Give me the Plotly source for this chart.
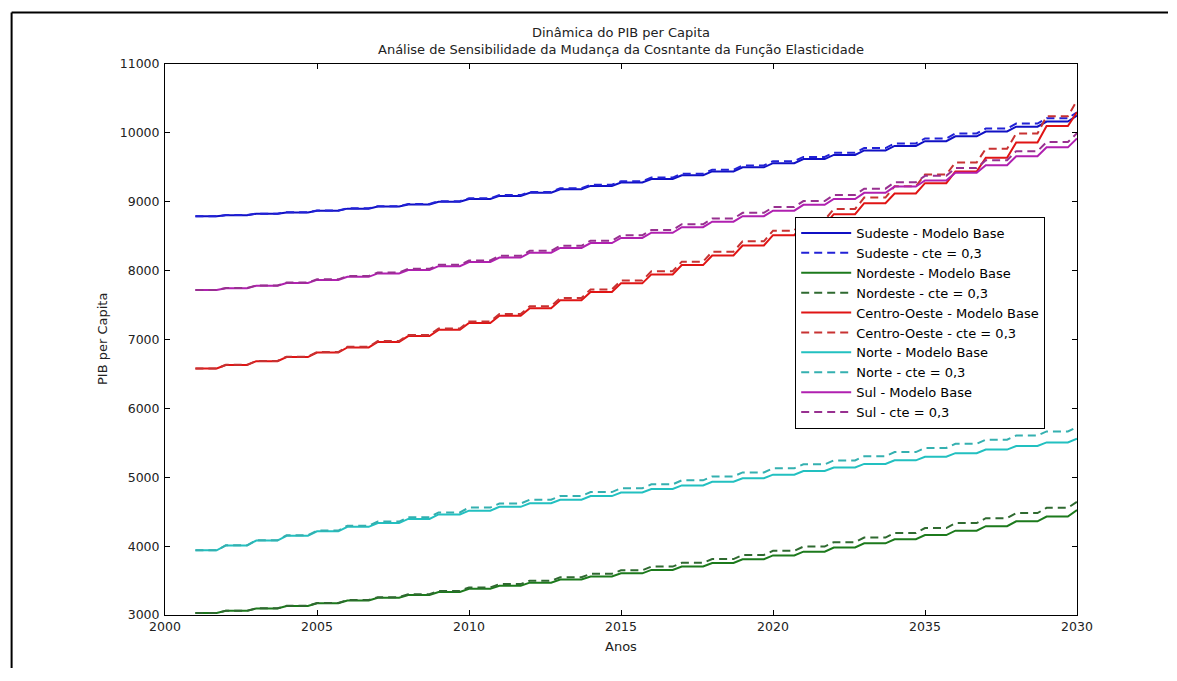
import plotly.graph_objects as go

years = list(range(2001, 2031))

sudeste_base = [8790, 8805, 8825, 8845, 8870, 8900, 8930, 8960, 9000, 9040,
                9085, 9130, 9180, 9230, 9280, 9330, 9385, 9440, 9500, 9560,
                9620, 9680, 9745, 9810, 9880, 9950, 10020, 10090, 10165, 10250]
sudeste_cte = [8790, 8806, 8827, 8848, 8874, 8905, 8936, 8968, 9009, 9050,
               9097, 9143, 9195, 9247, 9299, 9351, 9408, 9465, 9527, 9589,
               9651, 9713, 9780, 9847, 9919, 9991, 10063, 10135, 10212, 10300]
nordeste_base = [3030, 3060, 3095, 3130, 3170, 3210, 3250, 3290, 3335, 3380,
                 3425, 3470, 3515, 3560, 3605, 3655, 3705, 3755, 3810, 3865,
                 3920, 3980, 4040, 4100, 4160, 4225, 4290, 4360, 4430, 4525]
nordeste_cte = [3030, 3061, 3097, 3133, 3175, 3217, 3259, 3301, 3350, 3400,
                3449, 3498, 3548, 3598, 3648, 3703, 3757, 3812, 3872, 3932,
                3993, 4058, 4124, 4190, 4262, 4334, 4406, 4480, 4556, 4645]
centro_base = [6580, 6630, 6685, 6745, 6810, 6885, 6965, 7050, 7140, 7240,
               7345, 7455, 7570, 7690, 7815, 7945, 8080, 8220, 8365, 8515,
               8665, 8820, 8980, 9120, 9270, 9440, 9640, 9860, 10100, 10300]
centro_cte = [6580, 6632, 6689, 6751, 6818, 6895, 6978, 7066, 7159, 7262,
              7370, 7484, 7603, 7727, 7856, 7990, 8130, 8275, 8425, 8580,
              8735, 8895, 9060, 9225, 9395, 9570, 9770, 9990, 10240, 10470]
norte_base = [3940, 4010, 4080, 4150, 4215, 4280, 4335, 4395, 4460, 4515,
              4570, 4622, 4674, 4726, 4778, 4830, 4882, 4934, 4986, 5038,
              5090, 5142, 5194, 5246, 5298, 5350, 5402, 5454, 5506, 5560]
norte_cte = [3940, 4012, 4085, 4158, 4226, 4296, 4356, 4420, 4490, 4560,
             4618, 4673, 4728, 4785, 4840, 4897, 4955, 5012, 5070, 5130,
             5187, 5245, 5305, 5365, 5425, 5485, 5545, 5605, 5665, 5730]
sul_base = [7720, 7745, 7780, 7820, 7865, 7910, 7960, 8010, 8065, 8125,
            8190, 8260, 8330, 8400, 8475, 8550, 8630, 8710, 8790, 8870,
            8955, 9040, 9130, 9220, 9310, 9420, 9530, 9660, 9790, 9920]
sul_cte = [7720, 7747, 7784, 7826, 7873, 7921, 7973, 8026, 8084, 8147,
           8215, 8288, 8361, 8434, 8512, 8590, 8673, 8756, 8839, 8922,
           9010, 9098, 9190, 9283, 9376, 9489, 9602, 9735, 9867, 9995]

x_tickvals = [2000, 2005, 2010, 2015, 2020, 2025, 2030]
x_ticktext = ["2000", "2005", "2010", "2015", "2020", "2035", "2030"]
y_tickvals = [3000, 4000, 5000, 6000, 7000, 8000, 9000, 10000, 11000]

series = [
    ("Sudeste - Modelo Base", sudeste_base, "#1010c4", "solid"),
    ("Sudeste - cte = 0,3", sudeste_cte, "#2222d6", "dash"),
    ("Nordeste - Modelo Base", nordeste_base, "#1c7a1c", "solid"),
    ("Nordeste - cte = 0,3", nordeste_cte, "#2f6a30", "dash"),
    ("Centro-Oeste - Modelo Base", centro_base, "#e01414", "solid"),
    ("Centro-Oeste - cte = 0,3", centro_cte, "#c83232", "dash"),
    ("Norte - Modelo Base", norte_base, "#22c0c0", "solid"),
    ("Norte - cte = 0,3", norte_cte, "#34b0b0", "dash"),
    ("Sul - Modelo Base", sul_base, "#b020b0", "solid"),
    ("Sul - cte = 0,3", sul_cte, "#983090", "dash"),
]

RAMP = 0.3  # yearly step with short transition


def stepped(xv, yv):
    xs, ys = [], []
    n = len(xv)
    for i in range(n):
        xs.append(xv[i]); ys.append(yv[i])
        if i < n - 1:
            xs.append(xv[i + 1] - RAMP); ys.append(yv[i])
    return xs, ys


fig = go.Figure()
for name, vals, color, dash in series:
    xs, ys = stepped(years, vals)
    fig.add_trace(go.Scatter(
        x=xs, y=ys, mode="lines", name=name,
        line=dict(color=color, width=2, dash=("8px,5px" if dash == "dash" else "solid")),
    ))

FONT = "DejaVu Sans"
axis_common = dict(
    showline=True, linecolor="black", linewidth=1, mirror="ticks",
    ticks="inside", ticklen=5, tickcolor="black", showgrid=False, zeroline=False,
    tickfont=dict(family=FONT, size=12.5, color="#222"),
)

# the page adds an 8px body margin; margins compensate so the axes land
# where they are in the reference
fig.update_layout(
    width=1160, height=660,
    paper_bgcolor="white", plot_bgcolor="white",
    margin=dict(l=156.5, r=91, t=56, b=53),
    xaxis=dict(range=[2000, 2030], tickmode="array", tickvals=x_tickvals,
               ticktext=x_ticktext, **axis_common),
    yaxis=dict(range=[3000, 11000], tickmode="array", tickvals=y_tickvals,
               tickformat="d", ticklabelstandoff=2, **axis_common),
    legend=dict(x=0.691, y=0.7223, xanchor="left", yanchor="top",
                bordercolor="black", borderwidth=1, bgcolor="white",
                font=dict(family=FONT, size=13, color="black"),
                itemwidth=50, tracegroupgap=0),
    showlegend=True,
    annotations=[
        dict(text="Dinâmica do PIB per Capita<br>Análise de Sensibilidade da Mudança da Cosntante da Função Elasticidade",
             x=0.5, y=1.0417, xref="paper", yref="paper", xanchor="center", yanchor="middle",
             showarrow=False, font=dict(family=FONT, size=13, color="#222")),
        dict(text="Anos", x=0.5, y=-0.0563, xref="paper", yref="paper",
             xanchor="center", yanchor="middle", showarrow=False,
             font=dict(family=FONT, size=13, color="#222")),
        dict(text="PIB per Capita", x=-0.0685, y=0.5, xref="paper", yref="paper",
             xanchor="center", yanchor="middle", textangle=-90, showarrow=False,
             font=dict(family=FONT, size=13, color="#222")),
    ],
    shapes=[
        dict(type="line", xref="paper", yref="paper", x0=-0.1682, x1=1.2,
             y0=1.0935, y1=1.0935, line=dict(color="black", width=2)),
        dict(type="line", xref="paper", yref="paper", x0=-0.1682, x1=-0.1682,
             y0=1.0935, y1=-0.2, line=dict(color="black", width=2)),
    ],
)

fig.write_html("out.html")
